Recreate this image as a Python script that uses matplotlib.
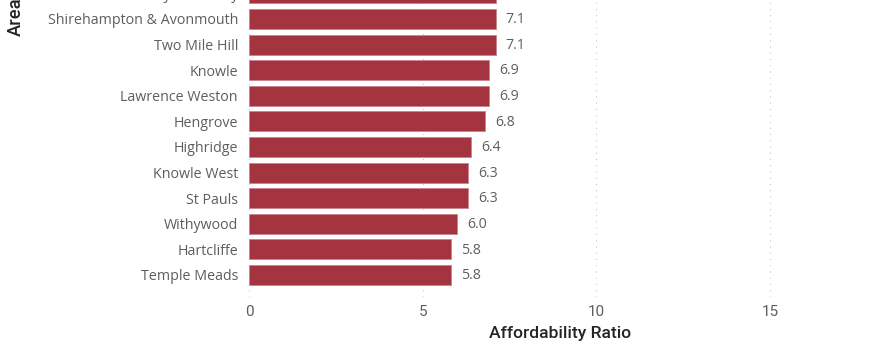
import matplotlib.pyplot as plt

# areas sorted by affordability ratio (top bar is cut off in the original)
areas = ['Henbury & Brentry', 'Shirehampton & Avonmouth', 'Two Mile Hill', 'Knowle',
         'Lawrence Weston', 'Hengrove', 'Highridge', 'Knowle West', 'St Pauls',
         'Withywood', 'Hartcliffe', 'Temple Meads']
ratio = [7.1, 7.1, 7.1, 6.9, 6.9, 6.8, 6.4, 6.3, 6.3, 6.0, 5.8, 5.8]
xticks = [0, 5, 10, 15]

bar_color = '#A4343F'
txt_gray = '#605E5C'
dark = '#252423'

fig = plt.figure(figsize=(8.75, 3.47), dpi=100)
# axes top sits above the figure edge so the first bar is clipped like the screenshot
ax = fig.add_axes([249/875, 50/347, 622/875, 319/347])

pos = list(range(len(areas)))
ax.barh(pos, ratio, height=0.78, color=bar_color, edgecolor='#C9858C',
        linewidth=0.6, zorder=2)

for p, v in zip(pos, ratio):
    ax.text(v + 0.29, p + 0.03, '%.1f' % v, va='center', ha='left',
            fontsize=10.2, color=txt_gray, family='Open Sans')

ax.set_xlim(0, 17.9)
ax.set_ylim(11.86, -0.6)
ax.set_yticks(pos)
ax.set_yticklabels(areas, fontsize=10.3, color=txt_gray, family='Open Sans')
ax.tick_params(axis='both', length=0)
ax.tick_params(axis='y', pad=8)
ax.set_xticks(xticks)
ax.set_xticklabels([str(t) for t in xticks], fontsize=11, color=txt_gray, family='Roboto')
ax.tick_params(axis='x', pad=5.5)

ax.xaxis.grid(True, color='#C8C6C4', linestyle=(0, (1, 5)), linewidth=0.75, zorder=0)
ax.set_axisbelow(True)
for s in ax.spines.values():
    s.set_visible(False)

ax.set_xlabel('Affordability Ratio', fontsize=12.6, color=dark, family='Roboto',
              fontweight='medium', labelpad=5)

# y title only partly visible at the top left
fig.text(7/875, 1 - 17/347, 'Area', rotation=90, ha='left', va='center',
         fontsize=13.2, color=dark, family='Roboto', fontweight='medium')

fig.savefig('out.png', dpi=100)
